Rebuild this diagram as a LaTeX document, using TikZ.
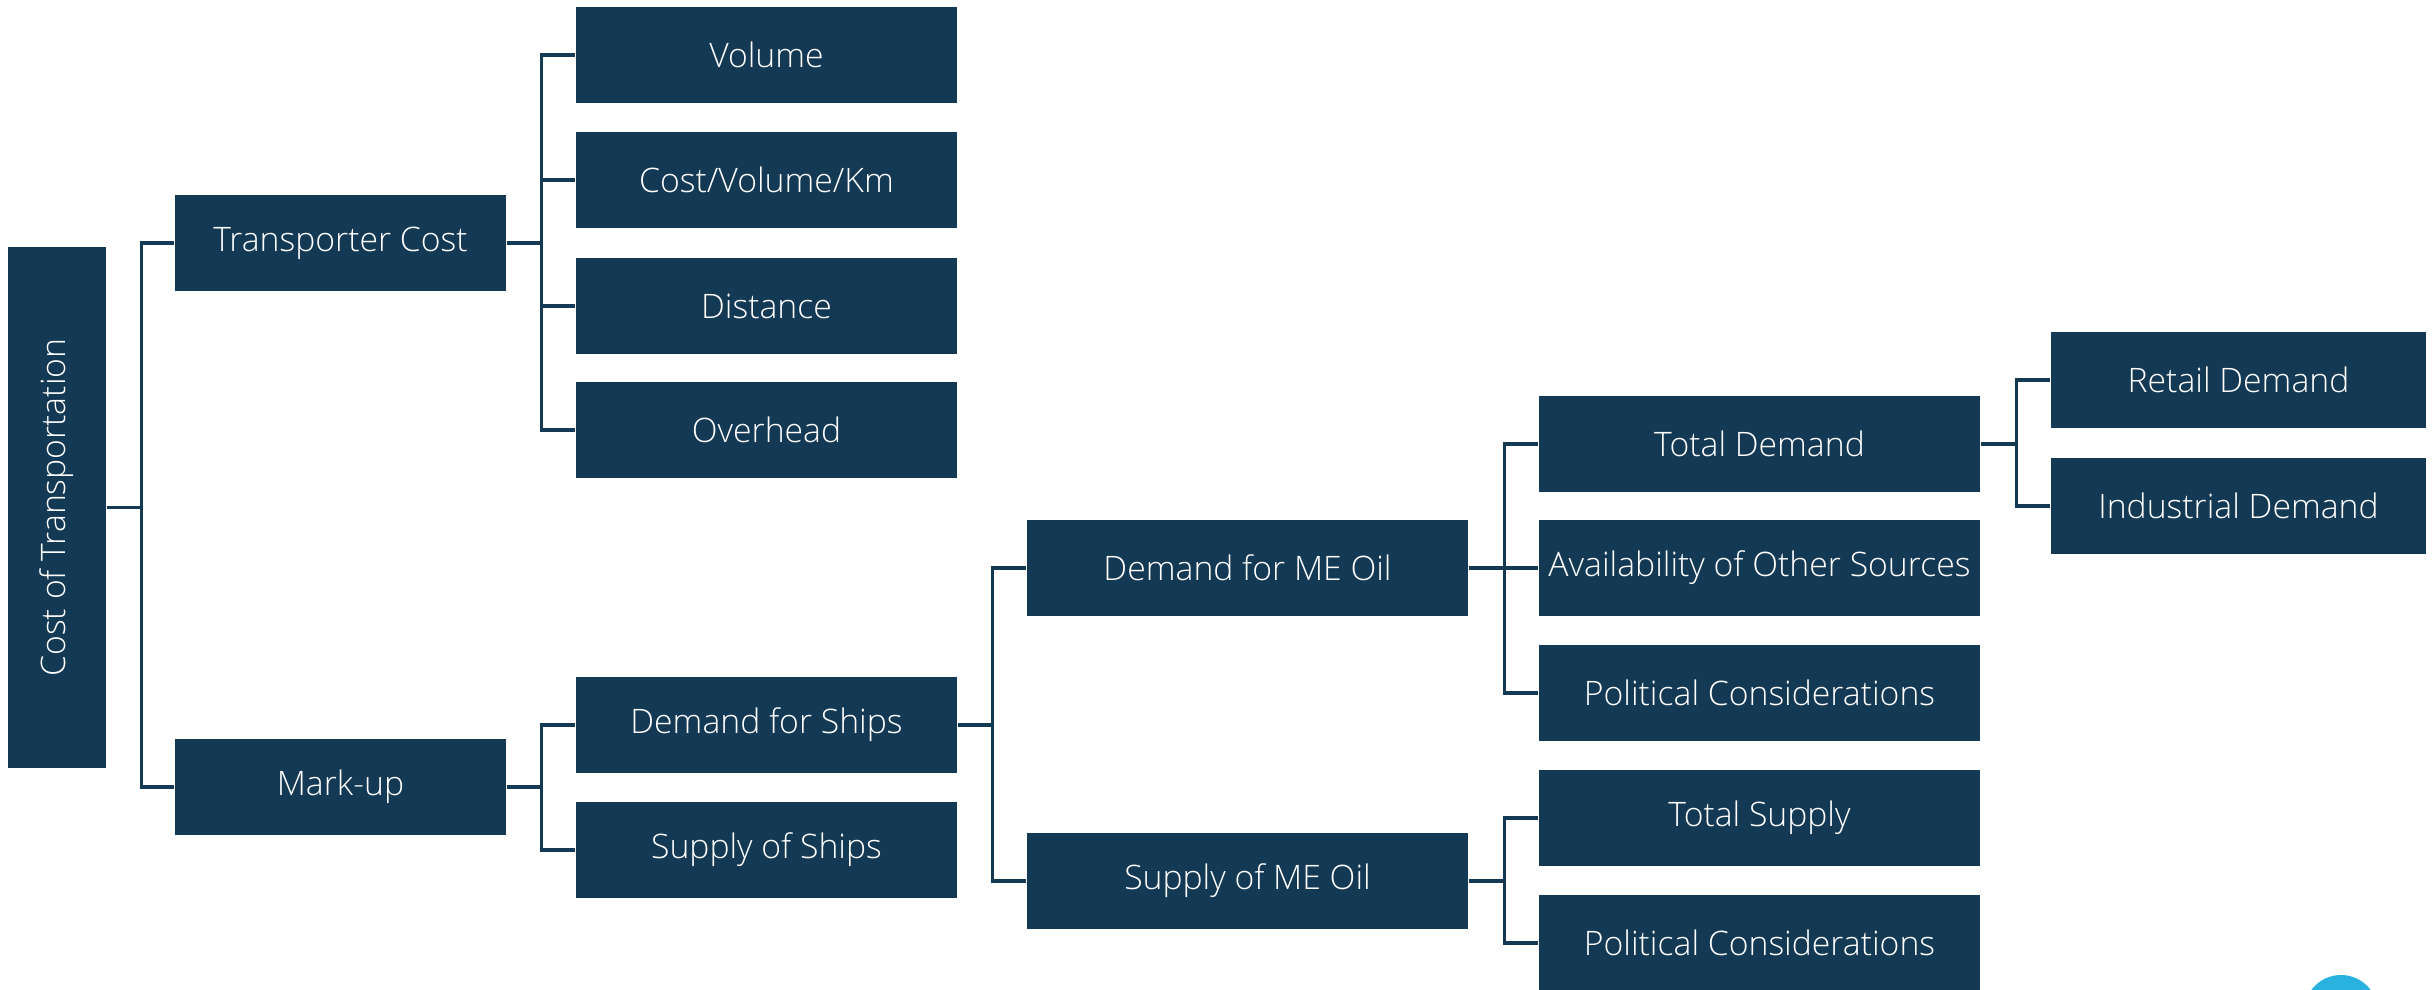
\documentclass[tikz,border=0pt]{standalone}
\usepackage{fontspec}
\setmainfont{Open Sans Light}
\definecolor{navy}{RGB}{20,57,84}
\definecolor{skyblue}{RGB}{41,177,224}
\tikzset{
  box/.style={fill=navy, text=white, inner sep=0pt, minimum height=0.96cm, font=\fontsize{9.6}{11.5}\selectfont},
  link/.style={draw=navy, line width=0.9pt},
}
\begin{document}
\begin{tikzpicture}
\useasboundingbox (0,0) rectangle (24.33,-9.89);
\node[box, minimum width=0.98cm, minimum height=5.21cm] (cot) at (0.57,-5.075) {\rotatebox{90}{Cost of Transportation}};
\node[box, minimum width=3.31cm] (tc) at (3.405,-2.43) {Transporter Cost};
\node[box, minimum width=3.31cm] (mu) at (3.405,-7.87) {Mark-up};
\node[box, minimum width=3.81cm] (vol) at (7.665,-0.55) {Volume};
\node[box, minimum width=3.81cm] (cvk) at (7.665,-1.80) {Cost/Volume/Km};
\node[box, minimum width=3.81cm] (dist) at (7.665,-3.06) {Distance};
\node[box, minimum width=3.81cm] (ovh) at (7.665,-4.30) {Overhead};
\node[box, minimum width=3.81cm] (dfs) at (7.665,-7.25) {Demand for Ships};
\node[box, minimum width=3.81cm] (sos) at (7.665,-8.50) {Supply of Ships};
\node[box, minimum width=4.41cm] (dme) at (12.475,-5.68) {Demand for ME Oil};
\node[box, minimum width=4.41cm] (sme) at (12.475,-8.81) {Supply of ME Oil};
\node[box, minimum width=4.41cm] (td) at (17.595,-4.44) {Total Demand};
\node[box, minimum width=4.41cm] (aos) at (17.595,-5.68) {Availability of Other Sources};
\node[box, minimum width=4.41cm] (pc) at (17.595,-6.93) {Political Considerations};
\node[box, minimum width=4.41cm] (ts) at (17.595,-8.18) {Total Supply};
\node[box, minimum width=4.41cm] (pc2) at (17.595,-9.43) {Political Considerations};
\node[box, minimum width=3.75cm] (rd) at (22.385,-3.80) {Retail Demand};
\node[box, minimum width=3.75cm] (id) at (22.385,-5.06) {Industrial Demand};
% elbow connectors
\draw[link] (cot.east) -- ++(0.35,0) |- (tc.west);
\draw[link] (cot.east) -- ++(0.35,0) |- (mu.west);
\draw[link] (tc.east) -- ++(0.35,0) |- (vol.west);
\draw[link] (tc.east) -- ++(0.35,0) |- (cvk.west);
\draw[link] (tc.east) -- ++(0.35,0) |- (dist.west);
\draw[link] (tc.east) -- ++(0.35,0) |- (ovh.west);
\draw[link] (mu.east) -- ++(0.35,0) |- (dfs.west);
\draw[link] (mu.east) -- ++(0.35,0) |- (sos.west);
\draw[link] (dfs.east) -- ++(0.35,0) |- (dme.west);
\draw[link] (dfs.east) -- ++(0.35,0) |- (sme.west);
\draw[link] (dme.east) -- ++(0.355,0) |- (td.west);
\draw[link] (dme.east) -- ++(0.355,0) |- (aos.west);
\draw[link] (dme.east) -- ++(0.355,0) |- (pc.west);
\draw[link] (sme.east) -- ++(0.355,0) |- (ts.west);
\draw[link] (sme.east) -- ++(0.355,0) |- (pc2.west);
\draw[link] (td.east) -- ++(0.355,0) |- (rd.west);
\draw[link] (td.east) -- ++(0.355,0) |- (id.west);
% corner mark
\fill[skyblue] (23.41,-10.12) circle (0.37);
\end{tikzpicture}
\end{document}
